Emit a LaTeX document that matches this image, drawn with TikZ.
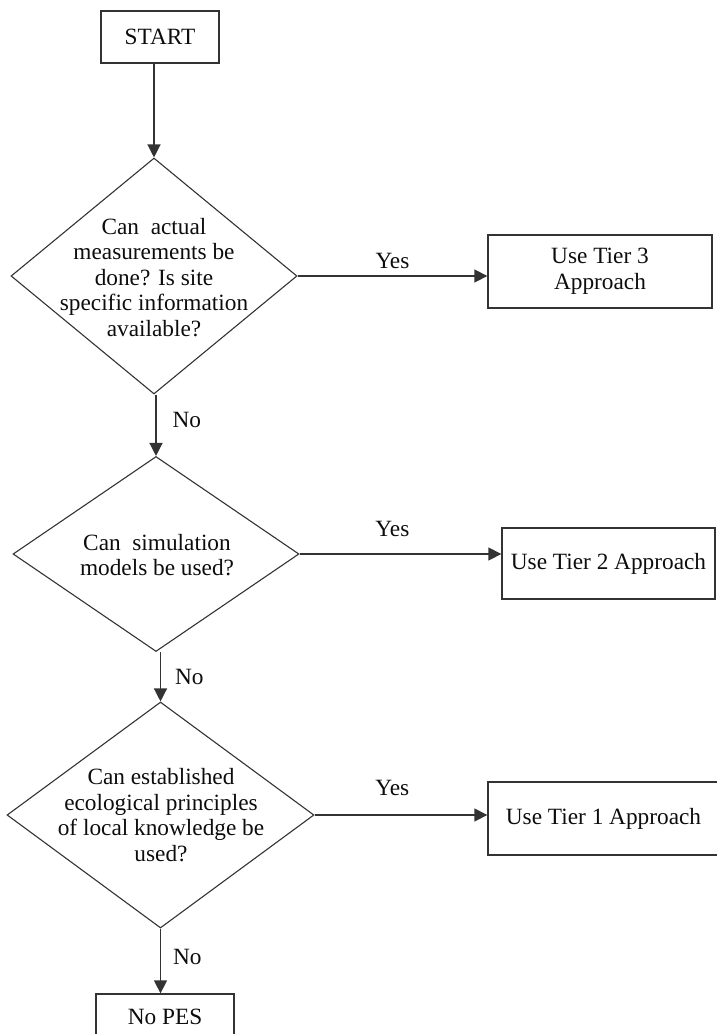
\documentclass[tikz,border=0pt]{standalone}
\usepackage{fontspec}
\setmainfont{Liberation Serif}
\usetikzlibrary{shapes.geometric, arrows.meta, positioning}
\definecolor{flowgray}{rgb}{0.2, 0.2, 0.2}

\begin{document}
\begin{tikzpicture}[x=1pt, y=-1pt,
    every node/.style={font=\fontsize{23.3}{25.5}\selectfont, text=black!95},
    box/.style={draw=flowgray, line width=1.3pt, rectangle, inner sep=0pt},
    decision/.style={draw=flowgray, line width=1.1pt, diamond, inner sep=0pt},
    question/.style={align=center, inner sep=0pt},
    lbl/.style={inner sep=0pt},
    arr/.style={draw=flowgray, line width=1.3pt, -{Triangle[length=13pt, width=13pt]}}]
    \useasboundingbox (0,0) rectangle (716,1034);

    \node[box, minimum width=118pt, minimum height=52pt] (start) at (160,37) {START};

    \node[decision, minimum width=286pt, minimum height=236pt] (d1) at (154,276) {};
    \node[question] (q1) at (154,277.5) {Can\ \ actual\\measurements be\\done? Is site\\specific information\\available?};

    \node[decision, minimum width=286pt, minimum height=195pt] (d2) at (156,554) {};
    \node[question] (q2) at (157,555) {Can\ \ simulation\\models be used?};

    \node[decision, minimum width=307pt, minimum height=226pt] (d3) at (160.5,815) {};
    \node[question] (q3) at (161,815) {Can established\\ecological principles\\of local knowledge be\\used?};

    \node[box, align=center, minimum width=224pt, minimum height=73pt] (tier3) at (600,271.5) {Use Tier 3\\Approach};
    \node[box, minimum width=213pt, minimum height=71pt] (tier2) at (608.5,563.5) {Use Tier 2 Approach};
    \node[box, minimum width=231pt, minimum height=73pt] (tier1) at (603.5,818.5) {Use Tier 1 Approach};
    \node[box, minimum width=138pt, minimum height=46pt] (nopes) at (165,1017) {No PES};

    \draw[arr] (d1.north |- start.south) -- (d1.north);

    \draw[arr] (d1.east) -- (d1.east -| tier3.west) node[lbl, pos=0.5, above=7pt] (yes1) {Yes};
    \draw[arr] (d2.east) -- (d2.east -| tier2.west) node[lbl, pos=0.46, above=17pt] (yes2) {Yes};
    \draw[arr] (d3.east) -- (d3.east -| tier1.west) node[lbl, pos=0.45, above=19pt] (yes3) {Yes};

    \draw[arr] (d1.south -| d2.north) -- (d2.north) node[lbl, pos=0.41, right=16pt] (no1) {No};
    \draw[arr] (d2.south -| d3.north) -- (d3.north) node[lbl, pos=0.5, right=14pt] (no2) {No};
    \draw[arr] (d3.south) -- (d3.south |- nopes.north) node[lbl, pos=0.44, right=12pt] (no3) {No};
\end{tikzpicture}
\end{document}
